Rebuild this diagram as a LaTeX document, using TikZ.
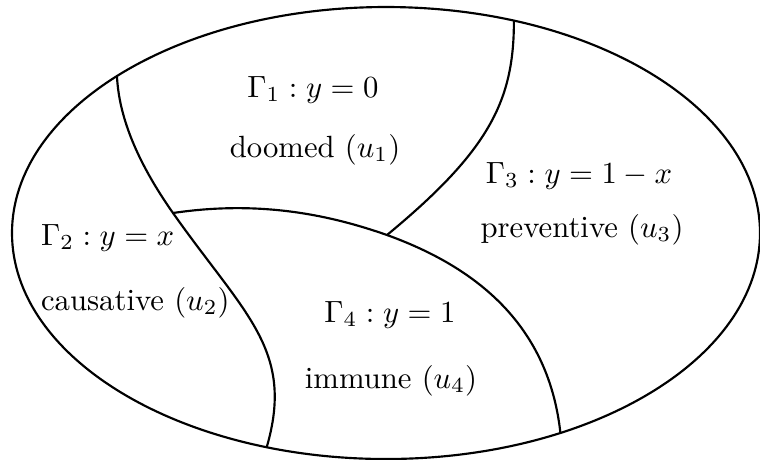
\documentclass[tikz,border=0pt]{standalone}
\begin{document}
\begin{tikzpicture}[x=0.01145cm,y=-0.01145cm,line width=.7pt,
  lbl/.style={inner sep=0pt,anchor=base}]
\useasboundingbox (0,0) rectangle (760,459);
\coordinate (o) at (386,233);
\draw (o) ellipse [x radius=374,y radius=226];
\coordinate (a1) at ([shift={(o)}]-136:374 and 226);
\coordinate (a2) at ([shift={(o)}]108.6:374 and 226);
\coordinate (c1) at ([shift={(o)}]-70:374 and 226);
\coordinate (b2) at ([shift={(o)}]62.2:374 and 226);
\coordinate (j1) at (173,213);
\coordinate (j2) at (387,235);
\draw (a1) .. controls (119,120) and (140,166) .. (j1) .. controls (245,315) and (295,350) .. (a2);
\draw (j1) .. controls (260,200) and (330,215) .. (j2) .. controls (470,265) and (548,320) .. (b2);
\draw (c1) .. controls (514,100) and (490,150) .. (j2);
\node[lbl] (g1) at (313,97) {$\Gamma_1 : y = 0$};
\node[lbl] (u1) at (315,157) {doomed ($u_1$)};
\node[lbl,anchor=base west] (g2) at (40,245) {$\Gamma_2 : y = x$};
\node[lbl,anchor=base west] (u2) at (40,310) {causative ($u_2$)};
\node[lbl] (g3) at (579,183) {$\Gamma_3 : y = 1 - x$};
\node[lbl] (u3) at (582,237) {preventive ($u_3$)};
\node[lbl] (g4) at (390,322) {$\Gamma_4 : y = 1$};
\node[lbl] (u4) at (391,388) {immune ($u_4$)};
\end{tikzpicture}
\end{document}
